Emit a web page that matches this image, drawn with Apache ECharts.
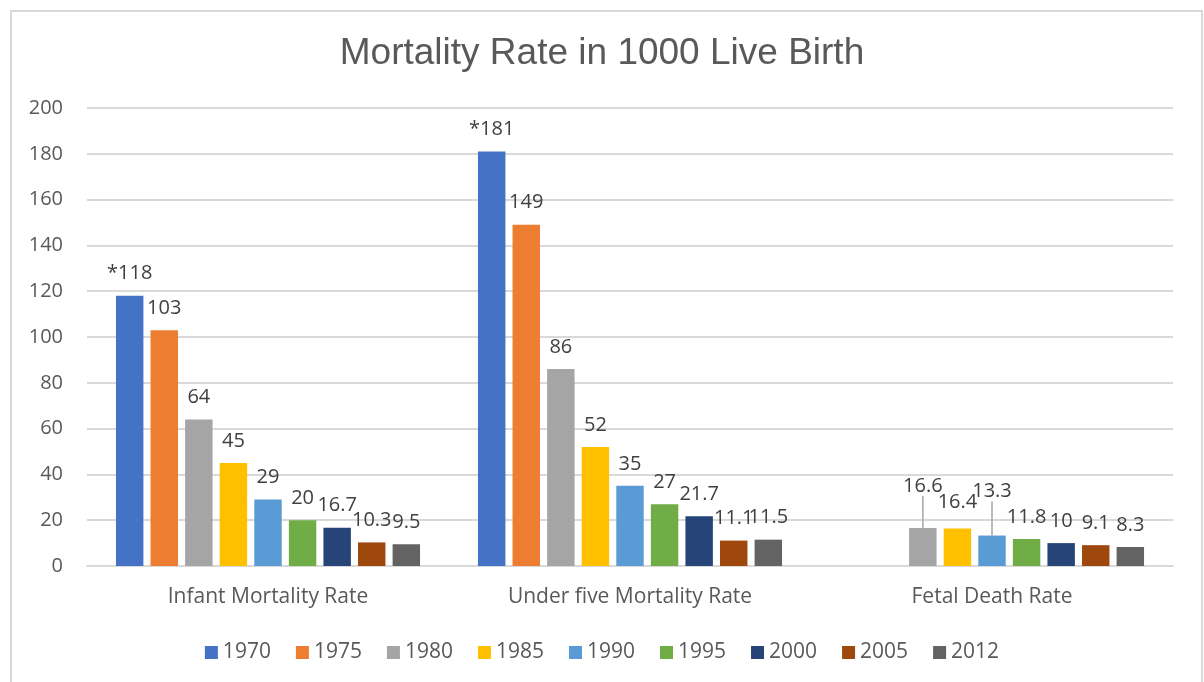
<!DOCTYPE html>
<html>
<head>
<meta charset="utf-8">
<script src="https://cdn.jsdelivr.net/npm/echarts@6/dist/echarts.min.js"></script>
<style>
  html, body { margin: 0; padding: 0; background: #fff; }
  #myChart { width: 1204px; height: 682px; }
</style>
</head>
<body>
<div id="myChart"></div>
<script>
// categories and series
const categories = ["Infant Mortality Rate", "Under five Mortality Rate", "Fetal Death Rate"];
const years = ["1970", "1975", "1980", "1985", "1990", "1995", "2000", "2005", "2012"];

const v1970 = [118, 181, null];
const v1975 = [103, 149, null];
const v1980 = [64, 86, 16.6];
const v1985 = [45, 52, 16.4];
const v1990 = [29, 35, 13.3];
const v1995 = [20, 27, 11.8];
const v2000 = [16.7, 21.7, 10];
const v2005 = [10.3, 11.1, 9.1];
const v2012 = [9.5, 11.5, 8.3];

const yTicks = [0, 20, 40, 60, 80, 100, 120, 140, 160, 180, 200];

const seriesValues = [v1970, v1975, v1980, v1985, v1990, v1995, v2000, v2005, v2012];
const colors = ["#4472C4", "#ED7D31", "#A5A5A5", "#FFC000", "#5B9BD5", "#70AD47", "#264478", "#9E480E", "#636363"];

// labels that were dragged up in the original (with leader line)
const movedLabels = { "2-2": -20, "3-2": -4, "4-2": -22 };
const withLine = { "2-2": true, "4-2": true };

const font = "'Open Sans', Lato, sans-serif";

let myChart = echarts.init(document.getElementById("myChart"));

myChart.setOption({
  animation: false,
  color: colors,
  title: {
    text: "Mortality Rate in 1000 Live Birth",
    left: "center",
    top: 30,
    textStyle: { fontFamily: "'Liberation Sans', Arial, sans-serif", fontSize: 37, fontWeight: "normal", color: "#595959" }
  },
  graphic: [{
    type: "rect",
    shape: { x: 11, y: 11, width: 1191, height: 700 },
    style: { fill: null, stroke: "#d9d9d9", lineWidth: 2 },
    silent: true
  }],
  legend: {
    data: years,
    top: 637,
    left: "center",
    icon: "rect",
    itemWidth: 13,
    itemHeight: 13,
    itemGap: 25,
    textStyle: { fontFamily: font, fontSize: 21, color: "#595959" }
  },
  grid: { left: 87, right: 31, top: 108, bottom: 116, containLabel: false },
  xAxis: {
    type: "category",
    data: categories,
    axisLine: { lineStyle: { color: "#d9d9d9", width: 2 } },
    axisTick: { show: false },
    axisLabel: { fontFamily: font, fontSize: 21, color: "#595959", margin: 21 }
  },
  yAxis: {
    type: "value",
    min: yTicks[0],
    max: yTicks[yTicks.length - 1],
    interval: yTicks[1] - yTicks[0],
    axisLine: { show: false },
    axisTick: { show: false },
    axisLabel: { fontFamily: font, fontSize: 20, color: "#595959", margin: 24 },
    splitLine: { lineStyle: { color: "#d9d9d9", width: 2 } }
  },
  series: years.map((y, si) => ({
    name: y,
    type: "bar",
    barGap: "26%",
    barCategoryGap: "16%",
    data: seriesValues[si].map((v, ci) => {
      let key = si + "-" + ci;
      let item = { value: v };
      if (withLine[key]) item.labelLine = { show: true, lineStyle: { color: "#a6a6a6", width: 1.5 } };
      return item;
    }),
    label: {
      show: true,
      position: "top",
      distance: 12,
      fontFamily: font,
      fontSize: 20,
      color: "#404040",
      formatter: p => (si === 0 ? "*" : "") + p.value
    },
    labelLayout: p => {
      let dy = movedLabels[p.seriesIndex + "-" + p.dataIndex];
      return dy ? { dy: dy } : {};
    }
  }))
});
</script>
</body>
</html>
